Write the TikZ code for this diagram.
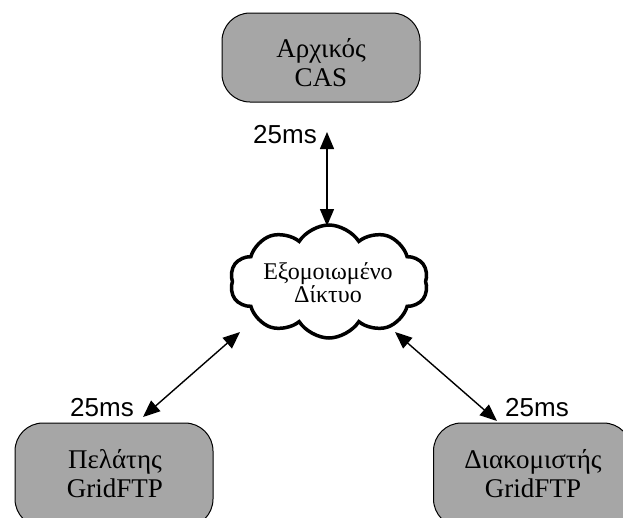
\documentclass[tikz,border=0pt]{standalone}
\usepackage{fontspec}
\setmainfont{Liberation Serif}
\newfontfamily\labelfont{Liberation Sans}
\usetikzlibrary{shapes.symbols,arrows.meta}
\definecolor{boxgray}{RGB}{166,166,166}
\tikzset{
  hostbox/.style={draw=black, line width=1pt, fill=boxgray, rounded corners=28pt,
    minimum width=198pt, align=center, inner sep=0pt},
  hosttext/.style={align=center, font=\fontsize{27}{29}\selectfont, inner sep=0pt},
  netcloud/.style={cloud, draw=black, line width=3.5pt, fill=white, cloud puffs=10,
    cloud puff arc=115, aspect=1.75, minimum width=198pt, minimum height=113pt,
    inner sep=0pt},
  cloudtext/.style={align=center, font=\fontsize{24}{23}\selectfont, inner sep=0pt},
  biarrow/.style={line width=1.4pt, {Triangle[length=17pt,width=14pt]}-{Triangle[length=17pt,width=14pt]}},
  latency/.style={font=\labelfont\fontsize{26}{30}\selectfont, inner sep=0pt, anchor=base}
}
\begin{document}
\begin{tikzpicture}[x=1pt,y=-1pt]
\useasboundingbox (0,0) rectangle (623,517);
\clip (0,0) rectangle (623,517);
% boxes
\node[hostbox, minimum height=89pt] (cas) at (321,57.5) {};
\node[hosttext] (castext) at (321,63) {Αρχικός\\CAS};
\node[hostbox, minimum height=104pt] (client) at (114,475) {};
\node[hosttext] (clienttext) at (115,474) {Πελάτης\\GridFTP};
\node[hostbox, minimum height=104pt] (server) at (532.5,475) {};
\node[hosttext] (servertext) at (533,474) {Διακομιστής\\GridFTP};
% cloud
\node[netcloud] (net) at (329,281.5) {};
\node[cloudtext] (nettext) at (328,283) {Εξομοιωμένο\\Δίκτυο};
% arrow endpoints
\coordinate (t1) at (327,132);
\coordinate (t2) at (327,226);
\coordinate (l1) at (143,417);
\coordinate (l2) at (240,332);
\coordinate (r1) at (395,332);
\coordinate (r2) at (497,421);
\draw[biarrow] (t1) -- (t2);
\draw[biarrow] (l1) -- (l2);
\draw[biarrow] (r1) -- (r2);
% labels
\node[latency] (lt) at (285,143) {25ms};
\node[latency] (ll) at (102,416) {25ms};
\node[latency] (lr) at (537,416) {25ms};
\end{tikzpicture}
\end{document}
